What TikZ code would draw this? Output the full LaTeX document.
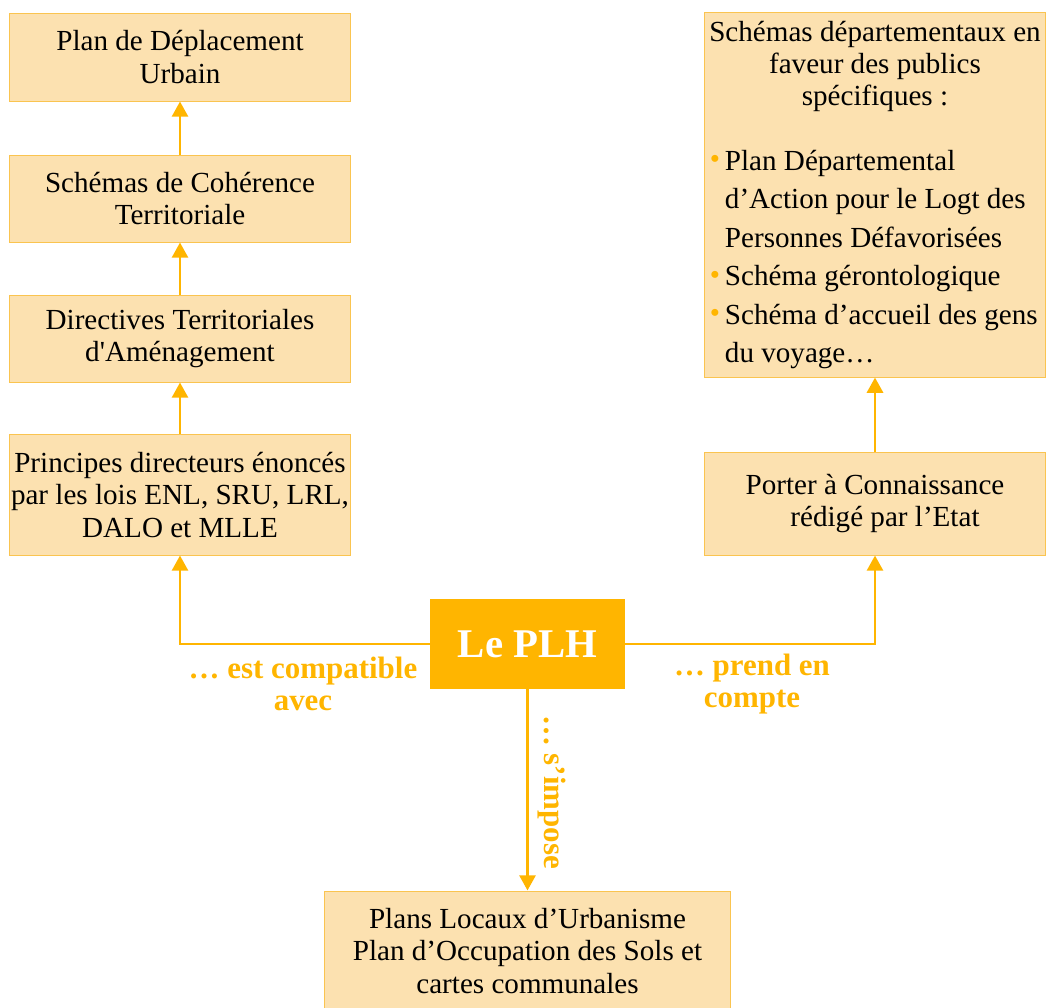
\documentclass[tikz,border=0pt]{standalone}
\usepackage{fontspec}
\setmainfont{Liberation Serif}
\usepackage{xcolor}
\usepackage{tikz}
\usetikzlibrary{positioning, calc, arrows.meta}
\definecolor{PLHOrange}{RGB}{255,181,0}
\definecolor{BoxFill}{RGB}{252,225,176}
\definecolor{BoxLine}{RGB}{250,196,80}
\tikzset{
    docbox/.style={
        draw=BoxLine, line width=0.7pt, fill=BoxFill, align=center,
        minimum width=8.5cm, inner sep=0pt, text=black,
        font=\fontsize{20.7}{22.8}\selectfont
    },
    plhbox/.style={
        fill=PLHOrange, text=white, minimum width=4.875cm, minimum height=2.25cm,
        font=\fontsize{29}{32}\selectfont\bfseries
    },
    relarrow/.style={
        -{Triangle[width=0.4cm,length=0.38cm]}, line width=2pt, PLHOrange
    },
    rellabel/.style={
        text=PLHOrange, align=center, font=\fontsize{22}{22.8}\selectfont\bfseries
    }
}
\newcommand{\orangedot}{\leavevmode\llap{\textcolor{PLHOrange}{\raisebox{0.1ex}{\scalebox{1.0}{\textbullet}}}\hspace{0.12cm}}}

\begin{document}
\begin{tikzpicture}[x=0.025cm, y=-0.025cm]
    \useasboundingbox (0,0) rectangle (1048,1008);

    % --- colonne de gauche ---
    \node[docbox, minimum height=2.2cm] (pdu) at (180,57) {Plan de Déplacement\\Urbain};
    \node[docbox, minimum height=2.175cm] (scot) at (180,198.5) {Schémas de Cohérence\\Territoriale};
    \node[docbox, minimum height=2.175cm] (dta) at (180,338.5) {Directives Territoriales\\d\textquotesingle Aménagement};
    \node[docbox, minimum height=3cm] (princ) at (180,495) {Principes directeurs énoncés\\par les lois ENL, SRU, LRL,\\DALO et MLLE};

    % --- colonne de droite ---
    \node[docbox, minimum height=9.1cm] (schemas) at (875,195) {\parbox{8.5cm}{%
        \centering Schémas départementaux en\\faveur des publics\\spécifiques :\par
        \vspace{0.66cm}
        \raggedright\leftskip=0.5cm
        \fontsize{20.7}{27.4}\selectfont
        \orangedot Plan Départemental\\d’Action pour le Logt des\\Personnes Défavorisées\\
        \orangedot Schéma gérontologique\\
        \orangedot Schéma d’accueil des gens\\du voyage…\par}};
    \node[docbox, minimum height=2.575cm] (porter) at (875,503.5) {Porter à Connaissance\\\hspace{0.5cm}rédigé par l’Etat};

    % --- le PLH et le bas ---
    \node[plhbox] (plh) at (527.5,644) {Le PLH};
    \node[docbox, minimum width=10.125cm, minimum height=3cm] (plu) at (527.5,951) {Plans Locaux d’Urbanisme\\Plan d’Occupation des Sols et\\cartes communales};

    % --- liens ---
    \draw[relarrow] (princ) -- (dta);
    \draw[relarrow] (dta) -- (scot);
    \draw[relarrow] (scot) -- (pdu);
    \draw[relarrow] (porter) -- (schemas);
    \draw[relarrow] (plh.west) -| (princ.south);
    \draw[relarrow] (plh.east) -| (porter.south);
    \draw[relarrow] (plh.south) -- (plu.north);

    \node[rellabel] (lcompat) at (303,684) {… est compatible\\avec};
    \node[rellabel] (lcompte) at (752,684) {… prend en\\compte};
    \node[rellabel, rotate=-90] (limpose) at (552,792) {… s’impose};
\end{tikzpicture}
\end{document}
